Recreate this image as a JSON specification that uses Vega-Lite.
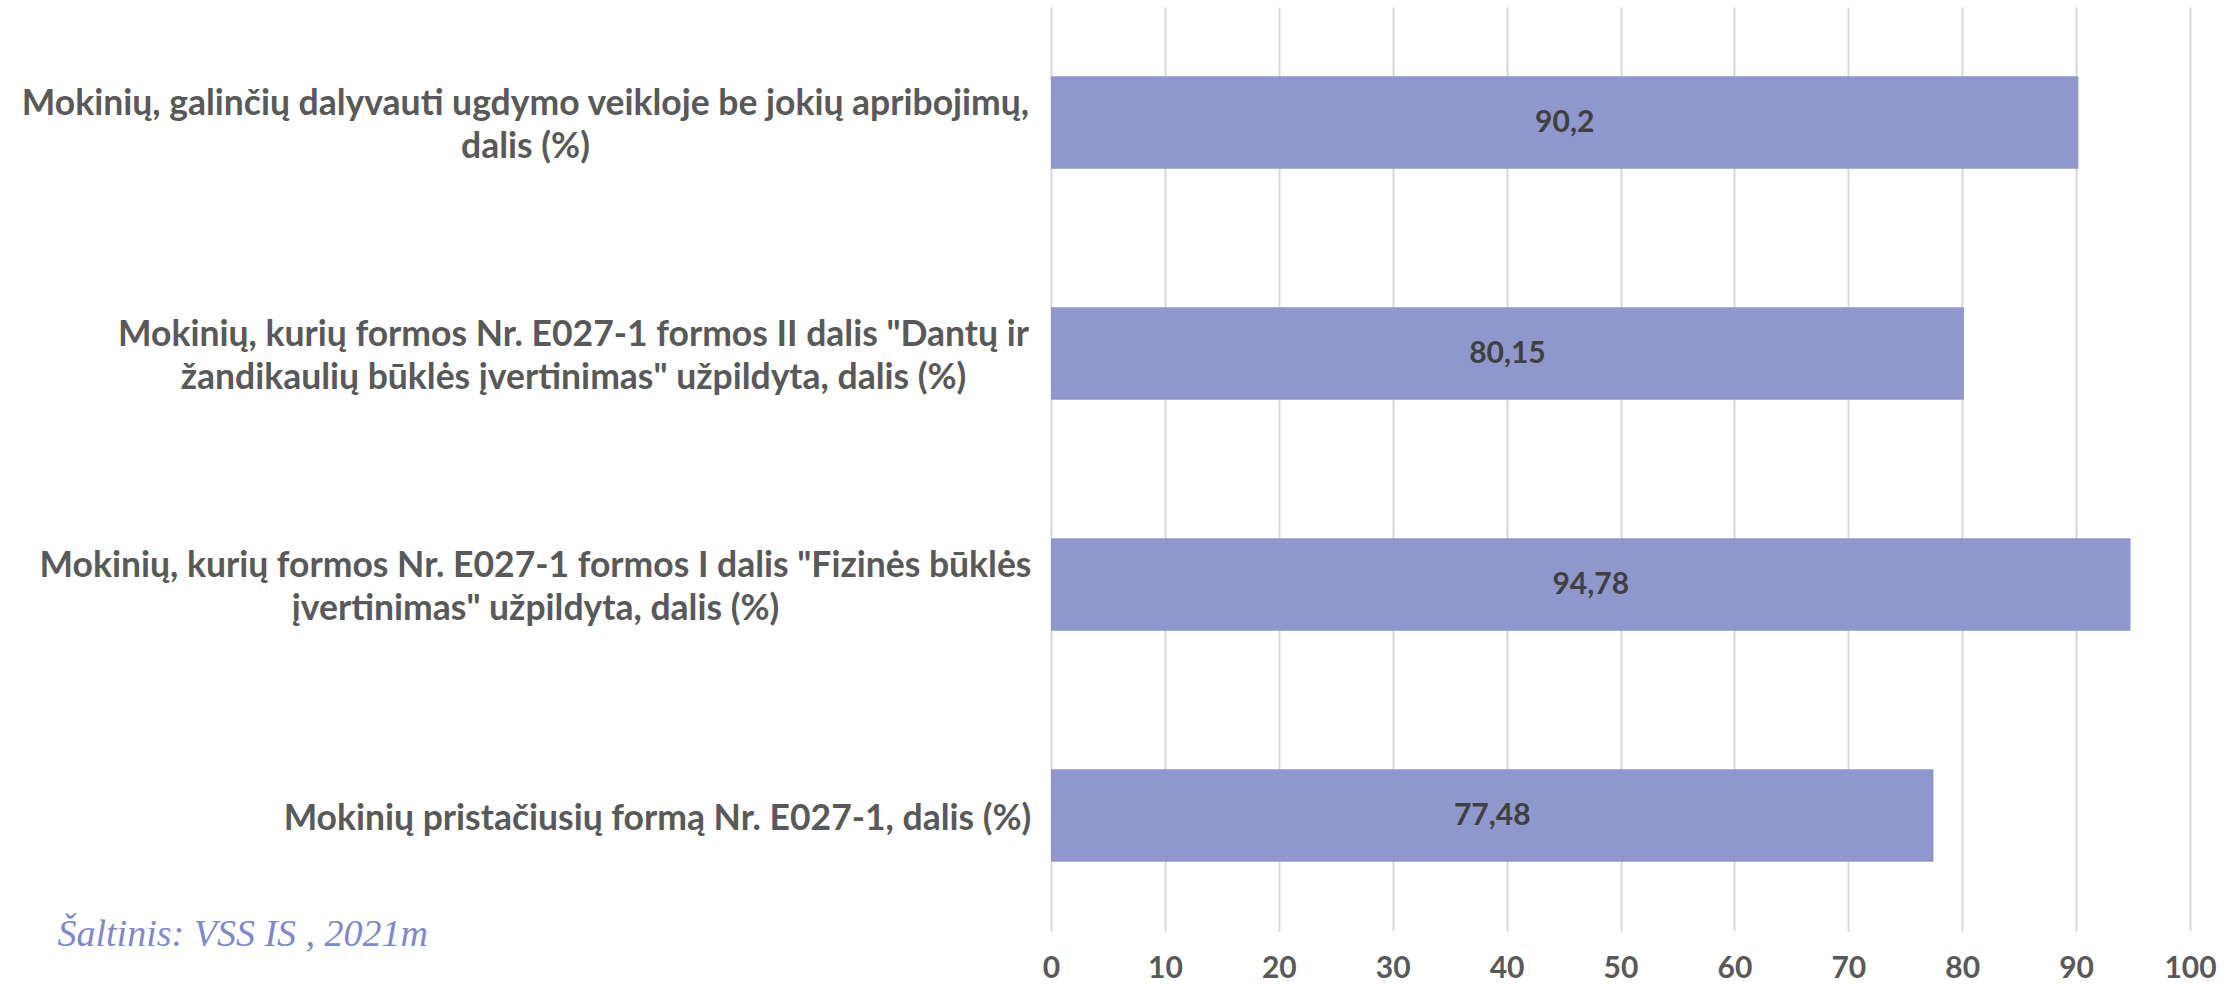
{
  "$schema": "https://vega.github.io/schema/vega-lite/v6.json",
  "width": 1139,
  "height": 924,
  "autosize": {"type": "none"},
  "padding": {"left": 1051, "top": 7, "right": 38, "bottom": 55},
  "background": "white",
  "config": {
    "view": {"stroke": null},
    "locale": {"number": {"decimal": ",", "thousands": " ", "grouping": [3], "currency": ["", " €"]}}
  },
  "data": {
    "values": [
      {"category": "Mokinių, galinčių dalyvauti ugdymo veikloje be jokių apribojimų,\ndalis (%)", "value": 90.2},
      {"category": "Mokinių, kurių formos  Nr. E027-1 formos II dalis \"Dantų ir\nžandikaulių būklės įvertinimas\" užpildyta, dalis (%)", "value": 80.15},
      {"category": "Mokinių, kurių formos  Nr. E027-1 formos I dalis \"Fizinės būklės\nįvertinimas\" užpildyta, dalis (%)", "value": 94.78},
      {"category": "Mokinių pristačiusių formą Nr. E027-1, dalis (%)", "value": 77.48}
    ]
  },
  "encoding": {
    "y": {
      "field": "category",
      "type": "nominal",
      "sort": null,
      "scale": {"paddingInner": 0.6, "paddingOuter": 0.3},
      "axis": {
        "title": "Šaltinis: VSS IS , 2021m",
        "titleAngle": 0,
        "titleX": -994,
        "titleY": 927,
        "titleAlign": "left",
        "titleBaseline": "middle",
        "titleFont": "Liberation Serif",
        "titleFontStyle": "italic",
        "titleFontWeight": "normal",
        "titleFontSize": 38,
        "titleColor": "#8088C8",
        "domain": false,
        "ticks": false,
        "labelExpr": "split(datum.label, '\\n')",
        "labelAlign": "center",
        "labelBaseline": "middle",
        "labelPadding": {"expr": "indexof(datum.value, 'galinčių') >= 0 ? 526 : indexof(datum.value, 'Dantų') >= 0 ? 478 : indexof(datum.value, 'Fizinės') >= 0 ? 516 : 394"},
        "labelOffset": {"expr": "indexof(datum.value, '\\n') >= 0 ? -19 : 3"},
        "labelFont": "Lato, sans-serif",
        "labelFontSize": 35.5,
        "labelFontWeight": "bold",
        "labelColor": "#595959",
        "labelLimit": 1200,
        "labelLineHeight": 43
      }
    }
  },
  "layer": [
    {
      "mark": {"type": "bar", "color": "#8F97CC"},
      "encoding": {
        "x": {
          "field": "value",
          "type": "quantitative",
          "scale": {"domain": [0, 100], "nice": false},
          "axis": {
            "title": null,
            "values": [0, 10, 20, 30, 40, 50, 60, 70, 80, 90, 100],
            "grid": true,
            "gridColor": "#d9d9d9",
            "gridWidth": 2,
            "domain": false,
            "ticks": false,
            "labelFlush": false,
            "labelBaseline": "middle",
            "labelPadding": 37,
            "labelFont": "Lato, sans-serif",
            "labelFontSize": 30,
            "labelFontWeight": "bold",
            "labelColor": "#595959"
          }
        }
      }
    },
    {
      "mark": {
        "type": "text",
        "x": {"expr": "scale('x', datum.value / 2)"},
        "align": "center",
        "baseline": "middle",
        "font": "Lato, sans-serif",
        "fontSize": 30,
        "fontWeight": "bold",
        "color": "#404040"
      },
      "encoding": {
        "text": {"field": "value", "type": "quantitative", "format": ".2~f"}
      }
    }
  ]
}
